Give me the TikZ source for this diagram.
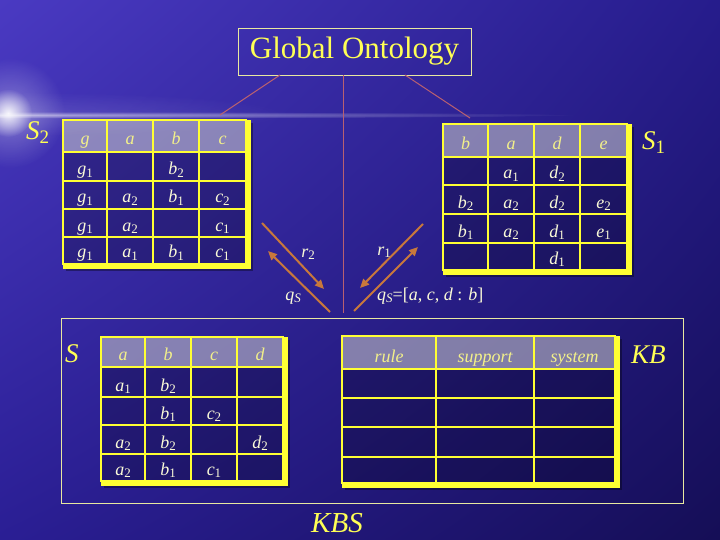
\documentclass[tikz,border=0pt]{standalone}
\usepackage{fontspec}
\setmainfont{Liberation Serif}
\usetikzlibrary{arrows.meta,fadings,shadings}
\tikzfading[name=glowfade, inner color=transparent!0, outer color=transparent!100]
\definecolor{bgUL}{HTML}{4A3AC2}
\definecolor{bgUR}{HTML}{261C8C}
\definecolor{bgLL}{HTML}{2A1E94}
\definecolor{bgLR}{HTML}{150E56}
\definecolor{tabyellow}{HTML}{FFFF33}
\definecolor{headtext}{HTML}{F2F08A}
\definecolor{celltext}{HTML}{FAFAD8}
\definecolor{labeltext}{HTML}{FFFF55}
\definecolor{arrowc}{HTML}{C8783C}
\definecolor{golinec}{HTML}{B86070}
\definecolor{boxline}{HTML}{E8E8A0}
\newcommand\subs[2]{\raisebox{-0.3ex}{\fontsize{#1}{#1}\selectfont\upshape #2}}
\newcommand\sv[2]{\textit{#1}\subs{13}{#2}}
\newcommand\qS{\textit{q}\raisebox{-0.3ex}{\fontsize{13}{13}\selectfont\itshape S}}
% x0 y0 x1 y1 yheader innerxs innerys
\newcommand\tablebox[7]{%
  \fill[black, opacity=0.35] (#3+5,#2+3) rectangle (#3+7,#4+7);
  \fill[black, opacity=0.35] (#1+3,#4+5) rectangle (#3+5,#4+7);
  \fill[tabyellow] (#3,#2) rectangle (#3+5,#4+5);
  \fill[tabyellow] (#1,#4) rectangle (#3+5,#4+5);
  \fill[black, opacity=0.22] (#1,#2) rectangle (#3,#4);
  \fill[white, opacity=0.45] (#1,#2) rectangle (#3,#5);
  \draw[gridline] (#1,#2) rectangle (#3,#4);
  \foreach \xx in {#6} {\draw[gridline] (\xx,#2) -- (\xx,#4);}
  \foreach \yy in {#7} {\draw[gridline] (#1,\yy) -- (#3,\yy);}
}
\tikzset{
  gridline/.style={draw=tabyellow, line width=1.6pt},
  cellt/.style={font=\fontsize{18}{20}\selectfont\itshape, text=celltext, inner sep=0pt, anchor=base},
  headt/.style={cellt, text=headtext},
  biglabel/.style={font=\fontsize{27}{30}\selectfont\itshape, text=labeltext, inner sep=0pt, anchor=base west},
  arrlabel/.style={font=\fontsize{18}{20}\selectfont\itshape, text=celltext, inner sep=0pt, anchor=base},
  flow/.style={draw=arrowc, line width=2pt, -{Triangle[length=9pt,width=8pt]}},
  goline/.style={draw=golinec, line width=1pt},
  gobox/.style={draw=boxline, line width=0.8pt, text=labeltext, font=\fontsize{31}{34}\selectfont, minimum width=233pt, minimum height=47pt, inner sep=0pt},
  kbsbox/.style={draw=boxline, line width=0.8pt, minimum width=622pt, minimum height=185pt, inner sep=0pt}
}
\begin{document}
\begin{tikzpicture}[x=1pt,y=-1pt]
\useasboundingbox (0,0) rectangle (720,540);
\shade[upper left=bgUL, upper right=bgUR, lower left=bgLL, lower right=bgLR] (0,0) rectangle (720,540);
% flare
\fill[white, path fading=glowfade, fill opacity=0.12] (30,114) ellipse (260 and 22);
\fill[white, path fading=glowfade, fill opacity=0.5] (20,115) ellipse (560 and 3.5);
\fill[white, path fading=glowfade, fill opacity=0.35] (10,113) circle (55);
\fill[white, path fading=glowfade, fill opacity=0.9] (8,113) circle (24);
% KBS frame
\node[kbsbox] (kbs) at (372,410.5) {};
% tables
\tablebox{63}{120}{246}{264}{152}{107,153,199}{152,181,209,237}
\tablebox{443}{124}{627}{270}{157}{488,534,580}{157,185,214,243}
\tablebox{101}{337}{283}{481}{367}{145,191,237}{367,397,425,454}
\tablebox{342}{336}{615}{483}{369}{436,534}{369,398,427,457}
% S2 contents
\node[headt] (s2h1) at (85,145) {g};
\node[headt] (s2h2) at (130,145) {a};
\node[headt] (s2h3) at (176,145) {b};
\node[headt] (s2h4) at (222.5,145) {c};
\node[cellt] (s2r1c1) at (85,175) {\sv{g}{1}};
\node[cellt] (s2r1c3) at (176,175) {\sv{b}{2}};
\node[cellt] (s2r2c1) at (85,203) {\sv{g}{1}};
\node[cellt] (s2r2c2) at (130,203) {\sv{a}{2}};
\node[cellt] (s2r2c3) at (176,203) {\sv{b}{1}};
\node[cellt] (s2r2c4) at (222.5,203) {\sv{c}{2}};
\node[cellt] (s2r3c1) at (85,231) {\sv{g}{1}};
\node[cellt] (s2r3c2) at (130,231) {\sv{a}{2}};
\node[cellt] (s2r3c4) at (222.5,231) {\sv{c}{1}};
\node[cellt] (s2r4c1) at (85,258) {\sv{g}{1}};
\node[cellt] (s2r4c2) at (130,258) {\sv{a}{1}};
\node[cellt] (s2r4c3) at (176,258) {\sv{b}{1}};
\node[cellt] (s2r4c4) at (222.5,258) {\sv{c}{1}};
% S1 contents
\node[headt] (s1h1) at (465.5,150) {b};
\node[headt] (s1h2) at (511,150) {a};
\node[headt] (s1h3) at (557,150) {d};
\node[headt] (s1h4) at (603.5,150) {e};
\node[cellt] (s1r1c2) at (511,179) {\sv{a}{1}};
\node[cellt] (s1r1c3) at (557,179) {\sv{d}{2}};
\node[cellt] (s1r2c1) at (465.5,208) {\sv{b}{2}};
\node[cellt] (s1r2c2) at (511,208) {\sv{a}{2}};
\node[cellt] (s1r2c3) at (557,208) {\sv{d}{2}};
\node[cellt] (s1r2c4) at (603.5,208) {\sv{e}{2}};
\node[cellt] (s1r3c1) at (465.5,237) {\sv{b}{1}};
\node[cellt] (s1r3c2) at (511,237) {\sv{a}{2}};
\node[cellt] (s1r3c3) at (557,237) {\sv{d}{1}};
\node[cellt] (s1r3c4) at (603.5,237) {\sv{e}{1}};
\node[cellt] (s1r4c3) at (557,264) {\sv{d}{1}};
% S contents
\node[headt] (sh1) at (123,360) {a};
\node[headt] (sh2) at (168,360) {b};
\node[headt] (sh3) at (214,360) {c};
\node[headt] (sh4) at (260,360) {d};
\node[cellt] (sr1c1) at (123,391) {\sv{a}{1}};
\node[cellt] (sr1c2) at (168,391) {\sv{b}{2}};
\node[cellt] (sr2c2) at (168,419) {\sv{b}{1}};
\node[cellt] (sr2c3) at (214,419) {\sv{c}{2}};
\node[cellt] (sr3c1) at (123,448) {\sv{a}{2}};
\node[cellt] (sr3c2) at (168,448) {\sv{b}{2}};
\node[cellt] (sr3c4) at (260,448) {\sv{d}{2}};
\node[cellt] (sr4c1) at (123,475) {\sv{a}{2}};
\node[cellt] (sr4c2) at (168,475) {\sv{b}{1}};
\node[cellt] (sr4c3) at (214,475) {\sv{c}{1}};
% KB header
\node[headt] (kbh1) at (389,362) {rule};
\node[headt] (kbh2) at (485,362) {support};
\node[headt] (kbh3) at (574.5,362) {system};
% big labels
\node[biglabel] (lS2) at (26,140) {S\subs{19}{2}};
\node[biglabel] (lS1) at (642,150) {S\subs{19}{1}};
\node[biglabel] (lS) at (65,362) {S};
\node[biglabel] (lKB) at (631,363) {KB};
\node[biglabel, font=\fontsize{29}{32}\selectfont\itshape] (lKBS) at (311,532) {KBS};
% global ontology
\node[gobox] (go) at (354.5,51.5) {Global Ontology};
\coordinate (gol) at (280,75);
\coordinate (gor) at (405,75);
\coordinate (goc) at (343,75);
\coordinate (s2top) at (220,115);
\coordinate (s1top) at (470,118);
\coordinate (gobot) at (343,313);
\draw[goline] (gol) -- (s2top);
\draw[goline] (gor) -- (s1top);
\draw[goline] (goc) -- (gobot);
% arrows
\coordinate (a1s) at (262,223); \coordinate (a1e) at (324,289);
\coordinate (a2s) at (330,312); \coordinate (a2e) at (268,251);
\coordinate (a3s) at (423,224); \coordinate (a3e) at (360,288);
\coordinate (a4s) at (354,311); \coordinate (a4e) at (418,247);
\draw[flow] (a1s) -- (a1e);
\draw[flow] (a2s) -- (a2e);
\draw[flow] (a3s) -- (a3e);
\draw[flow] (a4s) -- (a4e);
\node[arrlabel] (lr2) at (308,257) {\sv{r}{2}};
\node[arrlabel] (lq2) at (293,300) {\qS};
\node[arrlabel] (lr1) at (384,255) {\sv{r}{1}};
\node[arrlabel, anchor=base west] (lq1) at (377,300) {\qS\textup{=[}a\textup{, }c\textup{, }d\textup{ : }b\textup{]}};
\end{tikzpicture}
\end{document}
